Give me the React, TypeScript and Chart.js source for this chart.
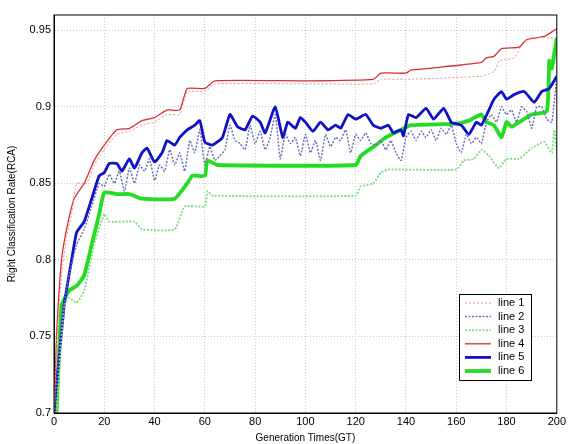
import { useEffect, useRef } from "react"
import { Chart, registerables } from "chart.js"

Chart.register(...registerables)

type Pt = [number, number]

const seriesNames = ["line 1", "line 2", "line 3", "line 4", "line 5", "line 6"]

const line1: Pt[] = [
  [0, 0.7], [1, 0.745], [3, 0.79], [5, 0.815], [7, 0.83], [9, 0.85], [13, 0.85], [16, 0.862],
  [20, 0.872], [25, 0.882], [30, 0.884], [35, 0.888], [40, 0.89], [45, 0.895], [50, 0.895],
  [53, 0.91], [60, 0.91], [64, 0.915], [100, 0.915], [127, 0.915], [130, 0.918], [140, 0.918],
  [170, 0.92], [175, 0.923], [177, 0.93], [183, 0.932], [186, 0.94], [190, 0.945], [200, 0.945],
]
const line2: Pt[] = [
  [0, 0.7], [3, 0.76], [6, 0.79], [9, 0.81], [12, 0.82], [15, 0.835], [18, 0.85], [20, 0.848],
  [22, 0.856], [24, 0.85], [26, 0.858], [28, 0.845], [30, 0.86], [32, 0.85], [34, 0.862], [36, 0.858],
  [38, 0.866], [40, 0.852], [42, 0.862], [44, 0.858], [46, 0.872], [48, 0.862], [50, 0.87], [52, 0.858],
  [54, 0.878], [56, 0.87], [58, 0.885], [60, 0.862], [62, 0.874], [64, 0.865], [66, 0.868], [68, 0.872],
  [70, 0.888], [72, 0.878], [74, 0.876], [76, 0.872], [78, 0.888], [80, 0.876], [82, 0.884], [84, 0.872],
  [86, 0.88], [88, 0.895], [90, 0.866], [92, 0.882], [94, 0.876], [96, 0.88], [98, 0.868], [100, 0.882],
  [102, 0.87], [104, 0.878], [106, 0.865], [108, 0.882], [110, 0.874], [112, 0.88], [114, 0.878],
  [116, 0.885], [118, 0.87], [120, 0.882], [122, 0.878], [124, 0.883], [126, 0.876], [128, 0.875],
  [130, 0.878], [132, 0.872], [134, 0.878], [136, 0.87], [138, 0.865], [140, 0.88], [142, 0.884],
  [144, 0.878], [146, 0.884], [148, 0.88], [150, 0.885], [152, 0.878], [154, 0.886], [156, 0.882],
  [158, 0.888], [160, 0.876], [162, 0.87], [164, 0.882], [166, 0.876], [168, 0.88], [170, 0.876],
  [172, 0.89], [174, 0.895], [176, 0.89], [178, 0.9], [180, 0.895], [182, 0.898], [184, 0.89],
  [186, 0.9], [188, 0.897], [190, 0.886], [192, 0.9], [194, 0.9], [196, 0.892], [198, 0.89], [200, 0.92],
]
const line3: Pt[] = [
  [1, 0.7], [4, 0.77], [6, 0.775], [9, 0.772], [12, 0.78], [16, 0.81], [20, 0.83], [22, 0.825],
  [32, 0.825], [35, 0.82], [48, 0.82], [52, 0.835], [60, 0.835], [61, 0.845], [63, 0.842], [120, 0.842],
  [122, 0.848], [127, 0.85], [130, 0.857], [133, 0.859], [160, 0.859], [163, 0.865], [167, 0.866],
  [170, 0.872], [173, 0.868], [177, 0.86], [180, 0.866], [185, 0.866], [190, 0.873], [195, 0.877],
  [198, 0.87], [199, 0.885], [200, 0.87],
]
const line4: Pt[] = [
  [0, 0.7], [1, 0.75], [3, 0.8], [5, 0.82], [8, 0.84], [12, 0.85], [16, 0.865], [20, 0.875],
  [25, 0.885], [30, 0.886], [35, 0.891], [40, 0.893], [45, 0.898], [50, 0.898], [53, 0.912],
  [60, 0.912], [64, 0.917], [100, 0.917], [127, 0.918], [130, 0.922], [140, 0.922], [142, 0.924],
  [160, 0.927], [170, 0.929], [172, 0.932], [175, 0.933], [178, 0.938], [185, 0.939], [188, 0.944],
  [195, 0.946], [200, 0.951],
]
const line5: Pt[] = [
  [0, 0.7], [4, 0.77], [7, 0.8], [9, 0.818], [12, 0.825], [15, 0.84], [18, 0.855], [20, 0.857],
  [22, 0.863], [25, 0.863], [27, 0.858], [30, 0.866], [32, 0.86], [35, 0.87], [37, 0.873], [40, 0.864],
  [43, 0.87], [45, 0.878], [48, 0.875], [50, 0.88], [53, 0.885], [56, 0.888], [58, 0.891], [60, 0.877],
  [63, 0.875], [67, 0.88], [70, 0.895], [73, 0.887], [76, 0.885], [79, 0.894], [82, 0.89], [84, 0.883],
  [88, 0.9], [91, 0.88], [93, 0.89], [96, 0.886], [98, 0.893], [100, 0.89], [103, 0.884], [106, 0.89],
  [109, 0.885], [112, 0.888], [114, 0.886], [117, 0.895], [120, 0.892], [124, 0.895], [127, 0.888],
  [130, 0.886], [133, 0.888], [135, 0.883], [138, 0.885], [139, 0.881], [141, 0.895], [144, 0.893],
  [148, 0.899], [151, 0.892], [155, 0.899], [158, 0.89], [162, 0.888], [165, 0.882], [168, 0.89],
  [170, 0.888], [173, 0.898], [175, 0.905], [178, 0.91], [180, 0.905], [183, 0.908], [187, 0.91],
  [191, 0.903], [194, 0.91], [197, 0.912], [200, 0.92],
]
const line6: Pt[] = [
  [1, 0.7], [3, 0.77], [6, 0.78], [9, 0.783], [12, 0.79], [15, 0.81], [18, 0.83], [20, 0.844],
  [25, 0.843], [30, 0.843], [35, 0.84], [48, 0.84], [53, 0.85], [55, 0.855], [60, 0.855], [61, 0.865],
  [65, 0.862], [120, 0.862], [122, 0.868], [128, 0.875], [132, 0.88], [138, 0.885], [142, 0.888],
  [160, 0.889], [165, 0.891], [170, 0.895], [172, 0.89], [175, 0.888], [178, 0.88], [180, 0.89],
  [182, 0.887], [185, 0.89], [190, 0.895], [196, 0.897], [197, 0.93], [198, 0.925], [199, 0.935],
  [200, 0.945],
]

const yTicks = [0.7, 0.75, 0.8, 0.85, 0.9, 0.95]
const xTicks = [0, 20, 40, 60, 80, 100, 120, 140, 160, 180, 200]

const allSeries = [line1, line2, line3, line4, line5, line6]
const colors = ["#e89090", "#7070b8", "#88dd88", "#d83030", "#1010c8", "#22dd22"]
const widths = [1, 1.5, 2, 1.3, 2.8, 3.8]
const dashes = [[2, 2], [2, 1.5], [2, 1.5], [], [], []]

export default function App() {
  const chartRef = useRef<HTMLCanvasElement>(null)
  const chartInstance = useRef<Chart | null>(null)

  useEffect(() => {
    if (!chartRef.current) return
    if (chartInstance.current) chartInstance.current.destroy()
    const ctx = chartRef.current.getContext("2d")
    if (!ctx) return

    // legend box inside the plot, bottom right
    const boxLegend = {
      id: "boxLegend",
      afterDraw: (chart: Chart) => {
        const c = chart.ctx
        const x0 = 459, y0 = 294, w = 72, h = 86
        c.save()
        c.fillStyle = "#fff"
        c.fillRect(x0, y0, w, h)
        c.strokeStyle = "#000"
        c.lineWidth = 1
        c.setLineDash([])
        c.strokeRect(x0 + 0.5, y0 + 0.5, w, h)
        c.font = "11px Arial"
        c.textBaseline = "middle"
        seriesNames.forEach((name, i) => {
          const y = y0 + 9 + i * 13.6
          c.strokeStyle = colors[i]
          c.lineWidth = widths[i]
          c.setLineDash(dashes[i])
          c.beginPath()
          c.moveTo(x0 + 6, y)
          c.lineTo(x0 + 32, y)
          c.stroke()
          c.fillStyle = "#000"
          c.fillText(name, x0 + 39, y)
        })
        c.restore()
      },
    }

    chartInstance.current = new Chart(ctx, {
      type: "line",
      data: {
        datasets: allSeries.map((s, i) => ({
          label: seriesNames[i],
          data: s.map(([x, y]) => ({ x, y })),
          borderColor: colors[i],
          borderWidth: widths[i],
          borderDash: dashes[i],
          pointRadius: 0,
          tension: 0.15,
          fill: false,
        })),
      },
      options: {
        animation: false,
        responsive: false,
        layout: { padding: { top: 15, right: 9, left: 6, bottom: 0 } },
        plugins: { legend: { display: false }, tooltip: { enabled: false } },
        scales: {
          x: {
            type: "linear",
            min: 0,
            max: 200,
            afterFit: (a: any) => { a.height = 31 },
            afterBuildTicks: (a: any) => { a.ticks = xTicks.map((v) => ({ value: v })) },
            ticks: { color: "#000", font: { family: "Arial", size: 11 }, padding: 2, maxRotation: 0 },
            grid: { color: "#bbb", tickLength: 0, lineWidth: 0.8 },
            border: { display: true, color: "#000", dash: [1, 2] },
            title: { display: true, text: "Generation Times(GT)", color: "#000", font: { family: "Arial", size: 10 }, padding: 0 },
          },
          y: {
            min: 0.7,
            max: 0.96,
            afterFit: (a: any) => { a.width = 48 },
            afterBuildTicks: (a: any) => { a.ticks = yTicks.map((v) => ({ value: v })) },
            ticks: {
              color: "#000",
              font: { family: "Arial", size: 11 },
              padding: 3,
              callback: (v: any) => String(+Number(v).toFixed(2)),
            },
            grid: { color: "#bbb", tickLength: 0, lineWidth: 0.8 },
            border: { display: true, color: "#000", dash: [1, 2] },
            title: { display: true, text: "Right Classification Rate(RCA)", color: "#000", font: { family: "Arial", size: 10 }, padding: 0 },
          },
        },
      },
      plugins: [
        {
          id: "frame",
          afterDraw: (chart: Chart) => {
            const { left, top, right, bottom } = chart.chartArea
            const c = chart.ctx
            c.save()
            c.strokeStyle = "#000"
            c.lineWidth = 1
            c.setLineDash([])
            c.strokeRect(left, top, right - left, bottom - top)
            c.restore()
          },
        },
        boxLegend,
      ],
    })

    return () => {
      if (chartInstance.current) chartInstance.current.destroy()
    }
  }, [])

  return (
    <div style={{ position: "fixed", left: 0, top: 0, width: 568, height: 444, background: "#fff" }}>
      <canvas ref={chartRef} width={568} height={444} />
    </div>
  )
}
